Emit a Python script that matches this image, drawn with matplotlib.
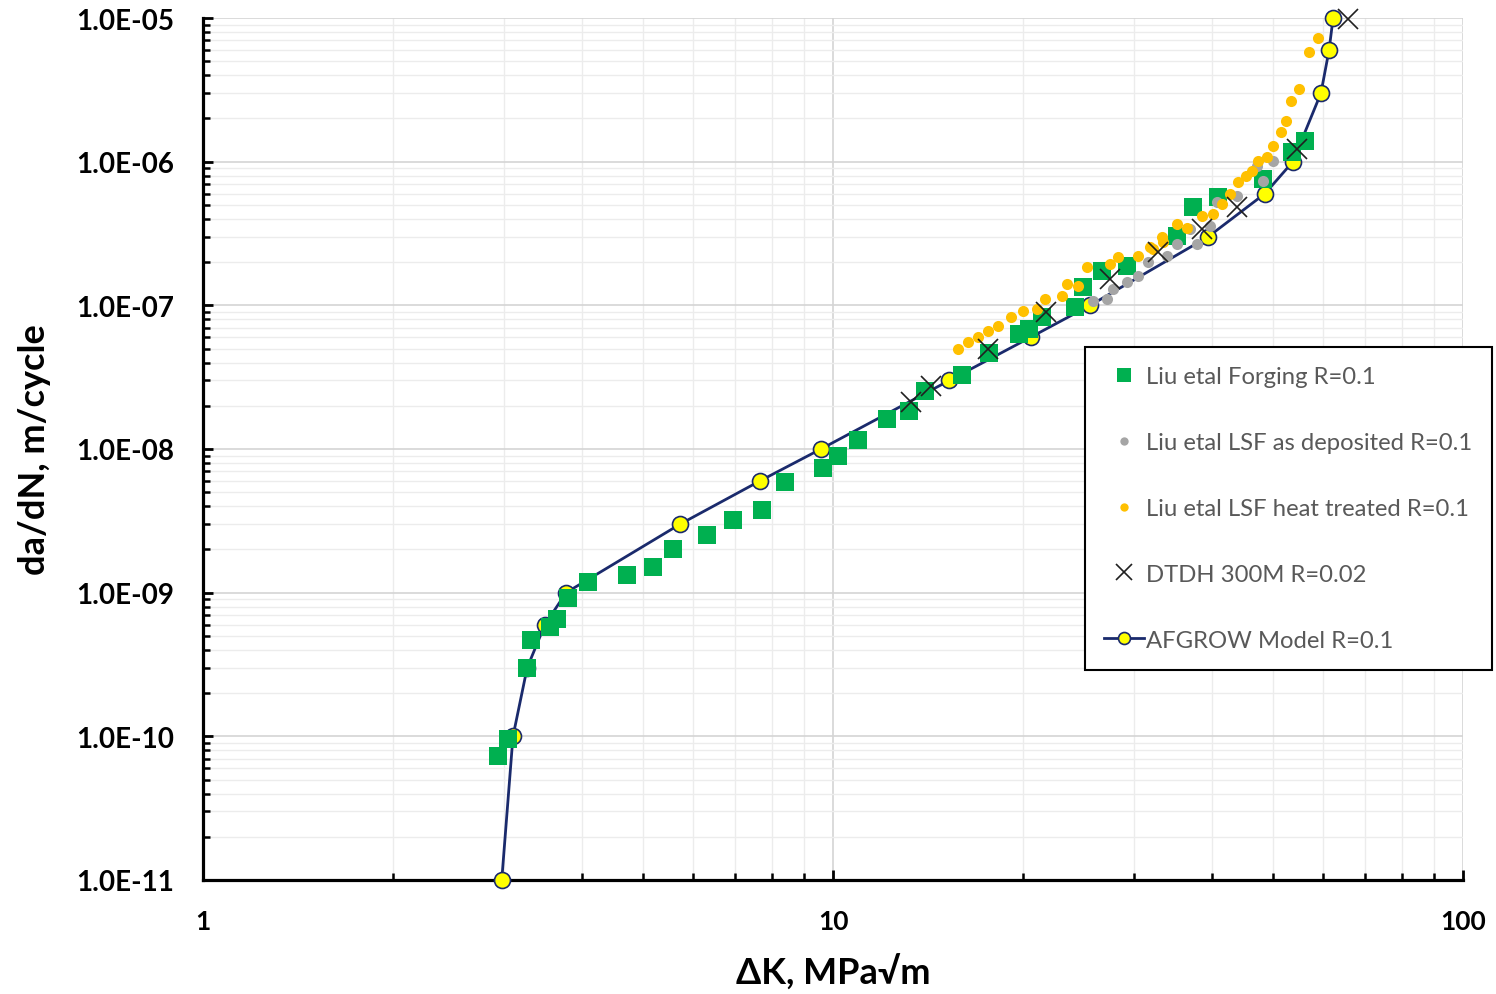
import numpy as np
import matplotlib
matplotlib.use("Agg")
import matplotlib.pyplot as plt
from matplotlib.ticker import LogLocator, FixedLocator, FuncFormatter, NullFormatter

plt.rcParams["font.family"] = ["Lato", "DejaVu Sans"]

# --- data (dK in MPa*sqrt(m), da/dN in m/cycle) ---
forging_dk = [2.94, 3.05, 3.27, 3.32, 3.55, 3.65, 3.80, 4.08, 4.71, 5.18, 5.57, 6.31,
              6.94, 7.71, 8.39, 9.64, 10.2, 10.96, 12.2, 13.2, 14.0, 16.0, 17.7, 19.7,
              20.5, 21.5, 24.2, 24.9, 26.7, 29.3, 35.2, 37.3, 40.8, 48.2, 53.5, 56.1]
forging_dadn = [7.3e-11, 9.6e-11, 3.0e-10, 4.7e-10, 5.8e-10, 6.6e-10, 9.2e-10, 1.19e-9,
                1.33e-9, 1.51e-9, 2.01e-9, 2.52e-9, 3.2e-9, 3.76e-9, 5.9e-9, 7.4e-9,
                8.9e-9, 1.16e-8, 1.62e-8, 1.84e-8, 2.53e-8, 3.27e-8, 4.66e-8, 6.3e-8,
                6.84e-8, 8.3e-8, 9.7e-8, 1.34e-7, 1.73e-7, 1.88e-7, 3.04e-7, 4.8e-7,
                5.7e-7, 7.6e-7, 1.17e-6, 1.39e-6]

deposited_dk = [25.9, 27.2, 27.8, 29.3, 30.5, 31.6, 33.9, 35.2, 36.9, 37.8, 39.6,
                40.7, 43.8, 47.1, 48.2, 49.9]
deposited_dadn = [1.07e-7, 1.11e-7, 1.30e-7, 1.45e-7, 1.60e-7, 2.0e-7, 2.2e-7, 2.67e-7,
                  3.4e-7, 2.67e-7, 3.57e-7, 5.24e-7, 5.77e-7, 9.3e-7, 7.3e-7, 1.01e-6]

treated_dk = [15.8, 16.4, 17.0, 17.6, 18.3, 19.2, 20.0, 21.1, 21.7, 23.1, 23.5, 24.5,
              25.3, 27.5, 28.3, 30.5, 31.9, 32.2, 33.3, 33.4, 35.2, 36.5, 38.5, 40.1,
              41.4, 42.7, 43.9, 45.3, 46.2, 47.3, 48.8, 49.9, 51.5, 52.4, 53.4, 55.0,
              56.9, 58.8]
treated_dadn = [4.97e-8, 5.56e-8, 6.0e-8, 6.6e-8, 7.2e-8, 8.3e-8, 9.1e-8, 9.4e-8,
                1.11e-7, 1.16e-7, 1.41e-7, 1.36e-7, 1.85e-7, 1.94e-7, 2.17e-7, 2.2e-7,
                2.55e-7, 2.47e-7, 2.99e-7, 2.76e-7, 3.68e-7, 3.45e-7, 4.19e-7, 4.32e-7,
                5.07e-7, 5.96e-7, 7.2e-7, 7.94e-7, 8.6e-7, 1.01e-6, 1.08e-6, 1.29e-6,
                1.61e-6, 1.92e-6, 2.64e-6, 3.2e-6, 5.8e-6, 7.26e-6]

dtdh_dk = [13.3, 14.3, 17.6, 21.8, 27.5, 32.8, 38.5, 43.8, 54.6, 65.7]
dtdh_dadn = [2.12e-8, 2.74e-8, 4.97e-8, 8.98e-8, 1.52e-7, 2.35e-7, 3.4e-7, 4.83e-7,
             1.22e-6, 9.84e-6]

afgrow_dk = [2.98, 3.105, 3.27, 3.49, 3.77, 5.72, 7.66, 9.57, 15.3, 20.6, 25.6, 39.4,
             48.5, 53.7, 59.5, 61.3, 62.2]
afgrow_dadn = [1e-11, 1e-10, 3e-10, 6e-10, 1e-9, 3e-9, 6e-9, 1e-8, 3e-8, 6e-8, 1e-7,
               3e-7, 6e-7, 1e-6, 3e-6, 6e-6, 1e-5]

W, H = 1496, 995
fig = plt.figure(figsize=(W / 100, H / 100), dpi=100)
ax = fig.add_axes([203 / W, 1 - 881 / H, (1463 - 203) / W, (881 - 19) / H])
ax.set_xscale("log")
ax.set_yscale("log")
ax.set_xlim(1, 100)
ax.set_ylim(1e-11, 1e-5)

afgrow, = ax.plot(afgrow_dk, afgrow_dadn, "-o", color="#1a2a6c", lw=2.0,
                  mfc="#ffff00", mec="#1a2a6c", mew=1.2, ms=11.5, zorder=3,
                  clip_on=False, label="AFGROW Model R=0.1")
forg, = ax.plot(forging_dk, forging_dadn, "s", color="#00b050", ms=12.5, mew=0,
                zorder=4, label="Liu etal Forging R=0.1")
dep, = ax.plot(deposited_dk, deposited_dadn, "o", color="#a5a5a5", ms=8, mew=0,
               zorder=5, label="Liu etal LSF as deposited R=0.1")
treat, = ax.plot(treated_dk, treated_dadn, "o", color="#ffc000", ms=8, mew=0,
                 zorder=6, label="Liu etal LSF heat treated R=0.1")
dtdh, = ax.plot(dtdh_dk, dtdh_dadn, "x", color="#202020", ms=15, mew=1.2,
                zorder=7, clip_on=False, label="DTDH 300M R=0.02")

# grid
ax.grid(True, which="major", color="#d4d4d4", lw=1.2, zorder=0)
ax.grid(True, which="minor", color="#ececec", lw=1.0, zorder=0)
ax.set_axisbelow(True)

for s in ("top", "right"):
    ax.spines[s].set_visible(False)
for s in ("left", "bottom"):
    ax.spines[s].set_linewidth(2.3)
    ax.spines[s].set_color("black")

ax.xaxis.set_major_locator(FixedLocator([1, 10, 100]))
ax.xaxis.set_minor_locator(LogLocator(base=10, subs=np.arange(2, 10), numticks=20))
ax.xaxis.set_major_formatter(FuncFormatter(lambda v, p: f"{v:g}"))
ax.xaxis.set_minor_formatter(NullFormatter())
ax.yaxis.set_major_locator(LogLocator(base=10, numticks=20))
ax.yaxis.set_minor_locator(LogLocator(base=10, subs=np.arange(2, 10), numticks=20))
ax.yaxis.set_major_formatter(FuncFormatter(lambda v, p: f"{v:.1E}"))
ax.yaxis.set_minor_formatter(NullFormatter())
ax.xaxis.offsetText.set_visible(False)
ax.yaxis.offsetText.set_visible(False)

ax.tick_params(which="both", direction="in", color="black")
ax.tick_params(which="major", length=7, width=2)
ax.tick_params(which="minor", length=5, width=1.8)
ax.tick_params(axis="y", which="major", pad=21, labelsize=20)
ax.tick_params(axis="x", which="major", pad=21, labelsize=19)
for lab in ax.get_xticklabels() + ax.get_yticklabels():
    lab.set_fontweight("bold")

ax.set_xlabel("ΔK, MPa√m", fontsize=26, fontweight="bold", va="center")
ax.set_ylabel("da/dN, m/cycle", fontsize=26, fontweight="bold", va="center")
ax.xaxis.set_label_coords(0.5, -0.106)
ax.yaxis.set_label_coords(-0.134, 0.5)

leg = ax.legend(handles=[forg, dep, treat, dtdh, afgrow],
                loc="upper left", bbox_to_anchor=(1085 / W, 1 - 348 / H),
                bbox_transform=fig.transFigure, fontsize=17.2, labelspacing=1.88,
                markerscale=0.75, handlelength=1.65, handletextpad=0.12,
                borderpad=0.8, borderaxespad=0, fancybox=False, frameon=True,
                framealpha=1)
leg.get_frame().set_edgecolor("black")
leg.get_frame().set_linewidth(1.5)
for t in leg.get_texts():
    t.set_color("#595959")

fig.savefig("out.png", dpi=100)
